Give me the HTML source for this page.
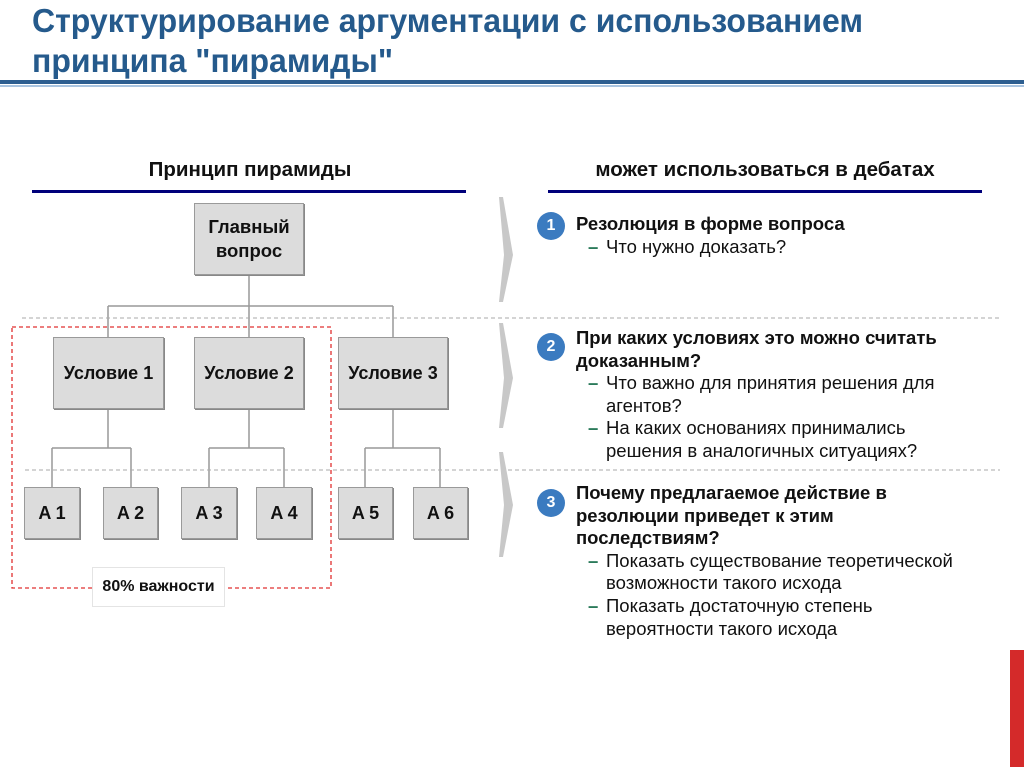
<!DOCTYPE html>
<html><head><meta charset="utf-8"><style>
body{margin:0;width:1024px;height:767px;background:#fff;position:relative;overflow:hidden;font-family:"Liberation Sans",sans-serif}
.a{position:absolute}
.t{left:32px;top:1px;font-size:33px;font-weight:bold;color:#255a8c;line-height:40px;transform:scaleX(.97);transform-origin:0 0;white-space:nowrap}
.box{position:absolute;background:#dcdcdc;border:1px solid #9a9a9a;box-shadow:1px 1px 0 #888;display:flex;align-items:center;justify-content:center;text-align:center;font-weight:bold;font-size:18px;color:#111;box-sizing:border-box}
.h{font-weight:bold;font-size:20.5px;color:#111;text-align:center}
.c{position:absolute;width:28px;height:28px;border-radius:50%;background:#3b7bc0;color:#fff;font-weight:bold;font-size:16px;display:flex;align-items:center;justify-content:center}
.r{position:absolute;left:576px;font-size:18.5px;line-height:22.6px;color:#111;white-space:nowrap}
.r b{display:block}
.s{padding-left:30px;position:relative}
.s:before{content:"–";position:absolute;left:12px;color:#2a7a5a;font-weight:bold}
</style></head><body>
<div class="a t">Структурирование аргументации с использованием<br>принципа "пирамиды"</div>
<div class="a" style="left:0;top:80px;width:1024px;height:4px;background:#2d5e90"></div>
<div class="a" style="left:0;top:85px;width:1024px;height:2px;background:#a9c4e0"></div>
<div class="a h" style="left:50px;top:158px;width:400px">Принцип пирамиды</div>
<div class="a h" style="left:515px;top:158px;width:500px">может использоваться в дебатах</div>
<div class="a" style="left:32px;top:190px;width:434px;height:3px;background:#00007a"></div>
<div class="a" style="left:548px;top:190px;width:434px;height:3px;background:#00007a"></div>
<svg class="a" style="left:0;top:0" width="1024" height="767">
<g stroke="#999" stroke-width="1.5" fill="none">
<path d="M249 275V337M108 306H393M108 306V337M393 306V337"/>
<path d="M108 409V448M52 448H131M52 448V487M131 448V487"/>
<path d="M249 409V448M209 448H284M209 448V487M284 448V487"/>
<path d="M393 409V448M365 448H440M365 448V487M440 448V487"/>
</g>
<g stroke="#aaa" stroke-width="1" stroke-dasharray="4,3"><path d="M22 318H1000M25 470H1000"/></g>
<rect x="12" y="327" width="319" height="261" fill="none" stroke="#e03030" stroke-width="1.3" stroke-dasharray="4,3"/>
<g fill="#c8c8c8"><path d="M499 197L503 197L513 255L503 302L499 302L504 255Z"/><path d="M499 323L503 323L513 378L503 428L499 428L504 378Z"/><path d="M499 452L503 452L513 505L503 557L499 557L504 505Z"/></g>
</svg>
<div class="box" style="left:194px;top:203px;width:110px;height:72px;line-height:24px;font-size:18.5px">Главный<br>вопрос</div>
<div class="box" style="left:53px;top:337px;width:111px;height:72px">Условие 1</div>
<div class="box" style="left:194px;top:337px;width:110px;height:72px">Условие 2</div>
<div class="box" style="left:338px;top:337px;width:110px;height:72px">Условие 3</div>
<div class="box" style="left:24px;top:487px;width:56px;height:52px">A 1</div>
<div class="box" style="left:103px;top:487px;width:55px;height:52px">A 2</div>
<div class="box" style="left:181px;top:487px;width:56px;height:52px">A 3</div>
<div class="box" style="left:256px;top:487px;width:56px;height:52px">A 4</div>
<div class="box" style="left:338px;top:487px;width:55px;height:52px">A 5</div>
<div class="box" style="left:413px;top:487px;width:55px;height:52px">A 6</div>
<div class="a" style="left:92px;top:567px;width:133px;height:40px;background:#fff;border:1px solid #e4e4e4;box-sizing:border-box;display:flex;align-items:center;justify-content:center;font-weight:bold;font-size:16px;color:#111">80% важности</div>
<div class="c" style="left:537px;top:212px">1</div>
<div class="c" style="left:537px;top:333px">2</div>
<div class="c" style="left:537px;top:489px">3</div>
<div class="r" style="top:213px"><b>Резолюция в форме вопроса</b><div class="s">Что нужно доказать?</div></div>
<div class="r" style="top:327px"><b>При каких условиях это можно считать<br>доказанным?</b><div class="s">Что важно для принятия решения для<br>агентов?</div><div class="s">На каких основаниях принимались<br>решения в аналогичных ситуациях?</div></div>
<div class="r" style="top:482px"><b>Почему предлагаемое действие в<br>резолюции приведет к этим<br>последствиям?</b><div class="s">Показать существование теоретической<br>возможности такого исхода</div><div class="s">Показать достаточную степень<br>вероятности такого исхода</div></div>
<div class="a" style="left:1010px;top:650px;width:14px;height:117px;background:#d42a2a"></div>
</body></html>
